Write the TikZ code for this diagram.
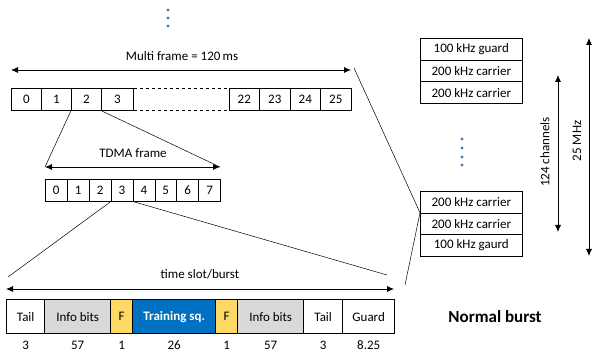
\documentclass[tikz,border=0pt]{standalone}
\usepackage{fontspec}
\setmainfont{Carlito}
\usetikzlibrary{arrows.meta}
\definecolor{infog}{HTML}{D9D9D9}
\definecolor{fyel}{HTML}{FFD966}
\definecolor{tblue}{HTML}{0070C0}
\definecolor{dotb}{HTML}{4472C4}
\begin{document}
\begin{tikzpicture}[x=1pt,y=-1pt,
  font=\fontsize{13}{15}\selectfont,
  mcell/.style={draw, line width=0.6pt, minimum height=22pt, inner sep=0pt, anchor=north west},
  bcell/.style={draw, line width=1.4pt, minimum height=34pt, inner sep=0pt, anchor=north west},
  fcell/.style={draw, line width=0.6pt, minimum height=21.7pt, minimum width=102pt, inner sep=0pt, anchor=north west},
  dim/.style={{Latex[length=7pt,width=6pt]}-{Latex[length=7pt,width=6pt]}, line width=0.8pt},
  conn/.style={line width=0.5pt},
  bdot/.style={fill=dotb, circle, inner sep=0pt, minimum size=3.2pt},
  lbl/.style={inner sep=1pt}]
\useasboundingbox (0,0) rectangle (592,352);

% top dots
\node[bdot] (d1) at (168,10) {};
\node[bdot] (d2) at (168,18) {};
\node[bdot] (d3) at (168,26) {};

% multiframe
\coordinate (mfL) at (11,70);
\coordinate (mfR) at (351,70);
\draw[dim] (mfL) -- (mfR);
\node[lbl] (mft) at (182,56) {Multi frame = 120\,ms};
\node[mcell, minimum width=30pt] (m0) at (11,88) {0};
\node[mcell, minimum width=30pt] (m1) at (41,88) {1};
\node[mcell, minimum width=30pt] (m2) at (71,88) {2};
\node[mcell, minimum width=32pt] (m3) at (101,88) {3};
\node[mcell, minimum width=30pt] (m22) at (229,88) {22};
\node[mcell, minimum width=31pt] (m23) at (259,88) {23};
\node[mcell, minimum width=30pt] (m24) at (290,88) {24};
\node[mcell, minimum width=31pt] (m25) at (320,88) {25};
\draw[dashed, line width=0.6pt] (m3.north east) -- (m22.north west);
\draw[dashed, line width=0.6pt] (m3.south east) -- (m22.south west);

% TDMA frame
\coordinate (tdL) at (45,167);
\coordinate (tdR) at (220,167);
\draw[dim] (tdL) -- (tdR);
\node[lbl] (tdt) at (133,153) {TDMA frame};
\foreach \i in {0,...,7}{
  \node[mcell, minimum width=21.9pt] (t\i) at ({45+21.9*\i},179) {\i};
}
\draw[conn] (m2.south west) -- (tdL);
\draw[conn] (m3.south west) -- (tdR);

% burst
\coordinate (bL) at (6,289);
\coordinate (bR) at (394,289);
\draw[dim] (bL) -- (bR);
\node[lbl] (bt) at (200,274) {time slot/burst};
\coordinate (tlL) at (8,277);
\coordinate (tlR) at (387,275);
\draw[conn] (t3.south west) -- (tlL);
\draw[conn] (t3.south east) -- (tlR);

\node[bcell, minimum width=38pt, fill=white] (b1) at (6,299) {Tail};
\node[bcell, minimum width=66pt, fill=infog] (b2) at (44,299) {Info bits};
\node[bcell, minimum width=22pt, fill=fyel] (b3) at (110,299) {F};
\node[bcell, minimum width=83pt, fill=tblue, text=white, font=\fontsize{13}{15}\selectfont\bfseries] (b4) at (132,299) {Training sq.};
\node[bcell, minimum width=22pt, fill=fyel] (b5) at (215,299) {F};
\node[bcell, minimum width=66pt, fill=infog] (b6) at (237,299) {Info bits};
\node[bcell, minimum width=39pt, fill=white] (b7) at (303,299) {Tail};
\node[bcell, minimum width=52pt, fill=white] (b8) at (342,299) {Guard};

\node[lbl] (n1) at (b1.center |- 0,345) {3};
\node[lbl] (n2) at (b2.center |- 0,345) {57};
\node[lbl] (n3) at (b3.center |- 0,345) {1};
\node[lbl] (n4) at (b4.center |- 0,345) {26};
\node[lbl] (n5) at (b5.center |- 0,345) {1};
\node[lbl] (n6) at (b6.center |- 0,345) {57};
\node[lbl] (n7) at (b7.center |- 0,345) {3};
\node[lbl] (n8) at (b8.center |- 0,345) {8.25};

\node[font=\fontsize{17}{19}\selectfont\bfseries] (nb) at (495,317) {Normal burst};

% frequency boxes
\node[fcell] (f1) at (420,38) {100 kHz guard};
\node[fcell] (f2) at (420,59.7) {200 kHz carrier};
\node[fcell] (f3) at (420,81.4) {200 kHz carrier};
\node[fcell] (f4) at (420,191) {200 kHz carrier};
\node[fcell] (f5) at (420,212.7) {200 kHz carrier};
\node[fcell] (f6) at (420,234.4) {100 kHz gaurd};

\node[bdot] (e1) at (462,139) {};
\node[bdot] (e2) at (462,148) {};
\node[bdot] (e3) at (462,157) {};
\node[bdot] (e4) at (462,165) {};

\coordinate (cT) at (558,75);
\coordinate (cB) at (558,232);
\draw[dim] (cT) -- (cB);
\node[rotate=90, lbl] (cl) at (545,152) {124 channels};
\coordinate (zT) at (589,38);
\coordinate (zB) at (589,256);
\draw[dim] (zT) -- (zB);
\node[rotate=90, lbl] (zl) at (577,141) {25 MHz};

% connectors to frequency boxes
\coordinate (mfC) at (354,68);
\coordinate (bC) at (405,285);
\draw[conn] (mfC) -- (f5.north west);
\draw[conn] (bC) -- (f5.north west);
\end{tikzpicture}
\end{document}
